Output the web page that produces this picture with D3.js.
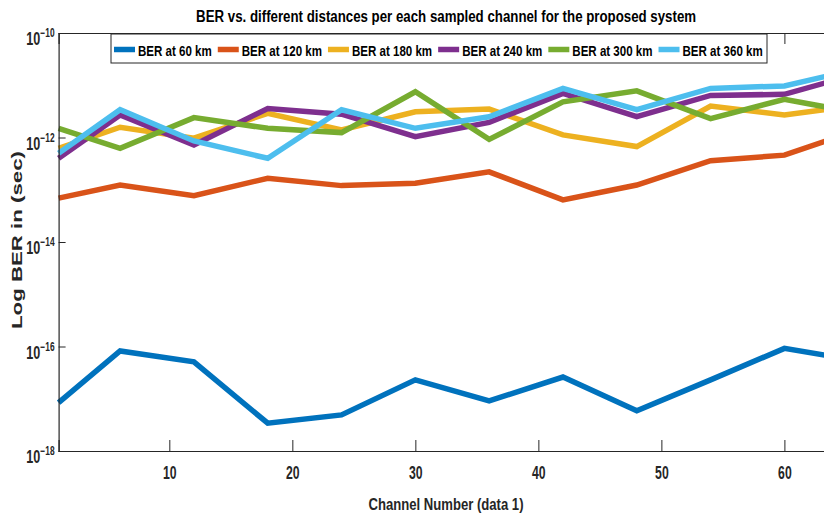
<!DOCTYPE html>
<html>
<head>
<meta charset="utf-8">
<script src="https://cdn.jsdelivr.net/npm/d3@7"></script>
<style>
body { margin: 0; background: #fff; }
svg { display: block; font-family: "Liberation Sans", Arial, sans-serif; }
</style>
</head>
<body>
<div id="chart"></div>
<script>
// sampled channels
var channels = [1, 6, 12, 18, 24, 30, 36, 42, 48, 54, 60, 64];

// BER per distance
var ber60  = [8.4e-18, 8.2e-17, 5.1e-17, 3.4e-18, 4.9e-18, 2.3e-17, 9.1e-18, 2.6e-17, 5.9e-18, 2.3e-17, 9.2e-17, 6.4e-17];
var ber120 = [6.9e-14, 1.23e-13, 7.7e-14, 1.66e-13, 1.2e-13, 1.33e-13, 2.2e-13, 6.4e-14, 1.23e-13, 3.6e-13, 4.6e-13, 9.6e-13];
var ber180 = [6.2e-13, 1.57e-12, 9.7e-13, 2.9e-12, 1.39e-12, 3.1e-12, 3.5e-12, 1.12e-12, 6.7e-13, 4.0e-12, 2.7e-12, 3.6e-12];
var ber240 = [4.0e-13, 2.7e-12, 7.2e-13, 3.6e-12, 2.8e-12, 1.04e-12, 1.95e-12, 7.0e-12, 2.5e-12, 6.4e-12, 6.7e-12, 1.23e-11];
var ber300 = [1.5e-12, 6.2e-13, 2.4e-12, 1.5e-12, 1.24e-12, 7.5e-12, 9.2e-13, 4.8e-12, 7.8e-12, 2.3e-12, 5.4e-12, 3.6e-12];
var ber360 = [5.0e-13, 3.4e-12, 8.6e-13, 4.0e-13, 3.4e-12, 1.5e-12, 2.5e-12, 8.7e-12, 3.4e-12, 8.7e-12, 9.7e-12, 1.6e-11];

var seriesNames = ["BER at 60 km", "BER at 120 km", "BER at 180 km", "BER at 240 km", "BER at 300 km", "BER at 360 km"];
var seriesColors = ["#0072BD", "#D95319", "#EDB120", "#7E2F8E", "#77AC30", "#4DBEEE"];
var allSeries = [ber60, ber120, ber180, ber240, ber300, ber360];

var xTicks = [10, 20, 30, 40, 50, 60];
var yTicks = [1e-10, 1e-12, 1e-14, 1e-16, 1e-18];

var svgWidth = 824;
var svgHeight = 517;
var margin = { top: 33, left: 58.6 };
var width = 775;   // plot runs past the right edge, like the cropped figure
var height = 418;
var axisColor = "#262626";

var svg = d3.select("#chart")
    .append("svg")
    .attr("width", svgWidth)
    .attr("height", svgHeight);

var chart = svg.append("g")
    .attr("transform", "translate(" + margin.left + "," + margin.top + ")");

var x = d3.scaleLinear().domain([1, 64]).range([0, width]);
var y = d3.scaleLog().domain([1e-18, 1e-10]).range([height, 0]);

// lines
var line = d3.line()
    .x(function(d, i) { return x(channels[i]); })
    .y(function(d) { return y(d); });

chart.selectAll(".series")
    .data(allSeries)
    .enter()
    .append("path")
    .attr("class", "series")
    .attr("d", line)
    .attr("fill", "none")
    .attr("stroke", function(d, i) { return seriesColors[i]; })
    .attr("stroke-width", 5.5)
    .attr("stroke-linejoin", "miter");

// axes
var bottomAxis = d3.axisBottom(x).tickValues(xTicks).tickSize(-11).tickPadding(15);
var topAxis = d3.axisTop(x).tickValues(xTicks).tickSize(-11).tickFormat("");
var leftAxis = d3.axisLeft(y).tickValues(yTicks).tickSize(-7).tickFormat("");

var gx = chart.append("g")
    .attr("transform", "translate(0," + height + ")")
    .call(bottomAxis);
chart.append("g").call(topAxis);
var gy = chart.append("g").call(leftAxis);

chart.selectAll(".domain").attr("stroke", axisColor).attr("stroke-width", 1.2);
chart.selectAll(".tick line").attr("stroke", axisColor).attr("stroke-width", 1);

gx.selectAll(".tick text")
    .attr("fill", axisColor)
    .style("font-size", "18px")
    .style("font-weight", "bold")
    .attr("transform", "scale(0.68,1)");

// y tick labels as 10^n
var yLab = chart.append("g");
yTicks.forEach(function(t) {
    var g = yLab.append("g")
        .attr("transform", "translate(-4," + (y(t) + 12) + ") scale(0.7,1)");
    var txt = g.append("text")
        .attr("text-anchor", "end")
        .attr("fill", axisColor)
        .style("font-weight", "bold");
    txt.append("tspan").style("font-size", "18px").text("10");
    txt.append("tspan").style("font-size", "12px").attr("dy", -8).text(d3.format("d")(Math.round(Math.log10(t))));
});

// title
svg.append("text")
    .attr("x", margin.left + width / 2)
    .attr("y", 22)
    .attr("text-anchor", "middle")
    .attr("textLength", 500)
    .attr("lengthAdjust", "spacingAndGlyphs")
    .style("font-size", "16px")
    .style("font-weight", "bold")
    .attr("fill", "#000")
    .text("BER vs. different distances per each sampled channel for the proposed system");

// x label
svg.append("text")
    .attr("x", 446)
    .attr("y", 510)
    .attr("text-anchor", "middle")
    .attr("textLength", 155)
    .attr("lengthAdjust", "spacingAndGlyphs")
    .style("font-size", "17px")
    .style("font-weight", "bold")
    .attr("fill", axisColor)
    .text("Channel Number (data 1)");

// y label
svg.append("g")
    .attr("transform", "translate(22,240) rotate(-90)")
    .append("text")
    .attr("text-anchor", "middle")
    .attr("textLength", 178)
    .attr("lengthAdjust", "spacingAndGlyphs")
    .style("font-size", "15px")
    .style("font-weight", "bold")
    .attr("fill", axisColor)
    .text("Log BER in (sec)");

// legend
var legend = svg.append("g").attr("transform", "translate(111,34)");
legend.append("rect")
    .attr("width", 656)
    .attr("height", 29)
    .attr("fill", "#fff")
    .attr("stroke", axisColor)
    .attr("stroke-width", 1);

var sx = 0.77;
var cursor = 3;
seriesNames.forEach(function(name, i) {
    legend.append("line")
        .attr("x1", cursor).attr("x2", cursor + 21)
        .attr("y1", 15.5).attr("y2", 15.5)
        .attr("stroke", seriesColors[i])
        .attr("stroke-width", 5.5);
    var t = legend.append("g")
        .attr("transform", "translate(" + (cursor + 24) + ",22) scale(" + sx + ",1)")
        .append("text")
        .style("font-size", "15px")
        .style("font-weight", "bold")
        .attr("fill", "#000")
        .text(name);
    cursor += 24 + t.node().getComputedTextLength() * sx + 6;
});
</script>
</body>
</html>
